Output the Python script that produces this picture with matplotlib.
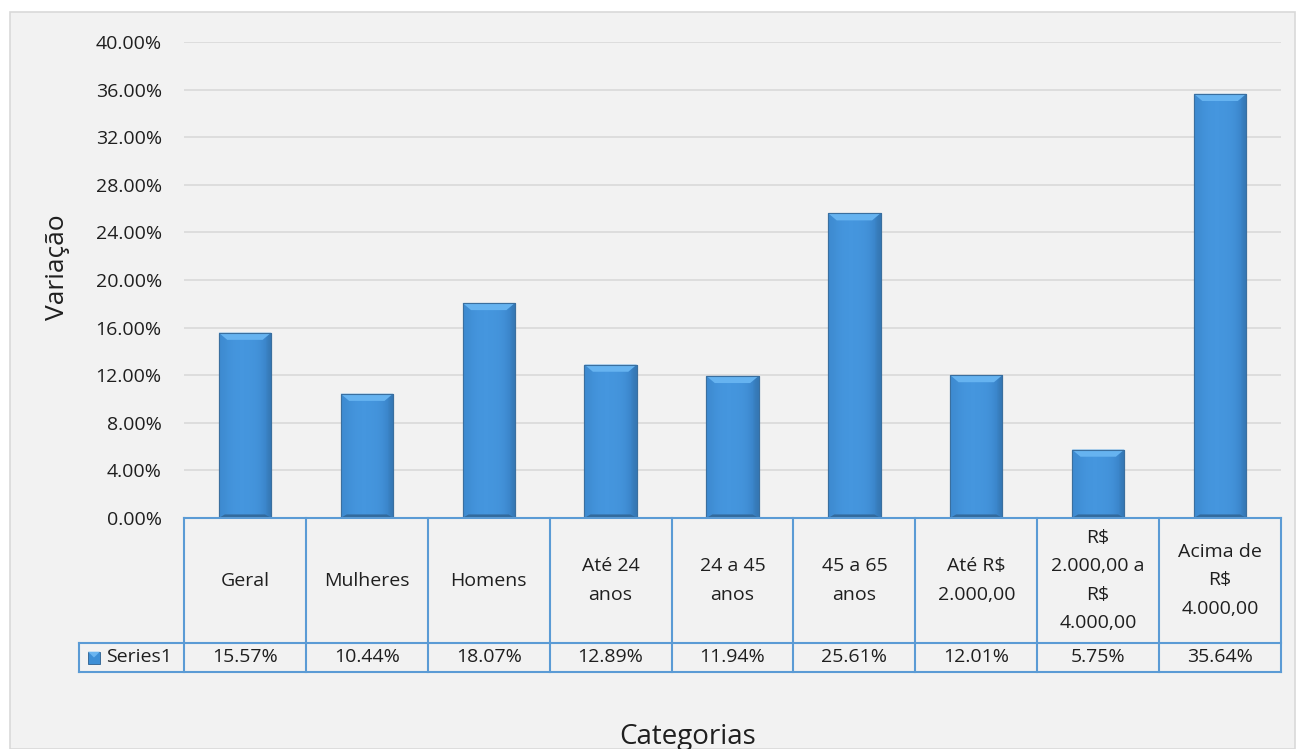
import matplotlib
matplotlib.use("Agg")
import matplotlib.pyplot as plt
import numpy as np
from matplotlib.patches import Rectangle, Polygon
from matplotlib.ticker import FuncFormatter

categories = ["Geral", "Mulheres", "Homens", "Até 24\nanos", "24 a 45\nanos",
              "45 a 65\nanos", "Até R$\n2.000,00", "R$\n2.000,00 a\nR$\n4.000,00",
              "Acima de\nR$\n4.000,00"]
values = [15.57, 10.44, 18.07, 12.89, 11.94, 25.61, 12.01, 5.75, 35.64]
series_name = "Series1"
yticks = [0, 4, 8, 12, 16, 20, 24, 28, 32, 36, 40]

W, H = 1296, 749
FONT = "Open Sans"
FS = 14
plt.rcParams["font.family"] = [FONT, "DejaVu Sans"]


def fx(px):
    return px / W


def fy(py):
    return 1 - py / H


fig = plt.figure(figsize=(W / 100, H / 100), dpi=100, facecolor="white")

# chart area background
fig.patches.append(Rectangle((fx(10), 0), 1 - fx(10) - 0.0005, fy(12), transform=fig.transFigure,
                             facecolor="#f2f2f2", edgecolor="#d9d9d9", linewidth=1.2, zorder=-5))

left, right, top, bottom = 184, 1281, 42, 518
ax = fig.add_axes([fx(left), fy(bottom), fx(right) - fx(left), fy(top) - fy(bottom)])
ax.set_facecolor("none")
for s in ax.spines.values():
    s.set_visible(False)
ax.set_yticks(yticks)
ax.yaxis.set_major_formatter(FuncFormatter(lambda v, p: f"{v:.2f}%"))
ax.tick_params(axis="y", length=0, pad=16, labelsize=FS, labelcolor="#1f1f1f")
ax.set_xticks([])
for t in yticks[1:]:
    ax.axhline(t, color="#d9d9d9", linewidth=1.2, zorder=1)

# bars with a bevel-like shading
grad = np.array([[0.86, 0.97, 1.0, 1.0, 0.98, 0.93, 0.72]])
cmap = matplotlib.colors.LinearSegmentedColormap.from_list(
    "b", ["#2c5f8e", "#3b86cb", "#4596de"])
bw = 0.43
for i, v in enumerate(values):
    bar = ax.bar(i, v, width=bw, color="#3d8fd6", edgecolor="#3a6f9f", linewidth=0.8, zorder=2)[0]
    im = ax.imshow(grad, extent=[i - bw / 2, i + bw / 2, 0, v], aspect="auto",
                   cmap=cmap, vmin=0.6, vmax=1.0, zorder=3, interpolation="bicubic")
    im.set_clip_path(bar)
    d = 0.6
    top_bevel = Polygon([[i - bw / 2, v], [i + bw / 2, v], [i + bw / 2 - 0.07, v - d],
                         [i - bw / 2 + 0.07, v - d]], closed=True,
                        facecolor="#66b3f0", edgecolor="none", zorder=4)
    ax.add_patch(top_bevel)
    db = 0.3
    bot_bevel = Polygon([[i - bw / 2, 0], [i + bw / 2, 0], [i + bw / 2 - 0.05, db],
                         [i - bw / 2 + 0.05, db]], closed=True,
                        facecolor="#336a9c", edgecolor="none", zorder=4)
    ax.add_patch(bot_bevel)
    ax.add_patch(Rectangle((i - bw / 2, 0), bw, v, facecolor="none",
                           edgecolor="#3a6f9f", linewidth=0.8, zorder=5))
ax.set_xlim(-0.5, len(categories) - 0.5)
ax.set_ylim(0, 40)

# data table
t_left, t_mid, t_bot = 79, 643, 672
unit = (right - left) / len(categories)
x0 = -0.5 - (left - t_left) / unit
tax = fig.add_axes([fx(t_left), fy(t_bot), fx(right) - fx(t_left), fy(bottom) - fy(t_bot)])
tax.set_xlim(x0, len(categories) - 0.5)
tax.axis("off")
tax.patch.set_visible(False)
lc = "#5b9bd5"
lw = 1.5
hdr_h = (t_mid - bottom) / (t_bot - t_mid)
tax.set_ylim(0, 1 + hdr_h)
n = len(categories)
tax.plot([-0.5, n - 0.5], [1 + hdr_h, 1 + hdr_h], color=lc, lw=lw, clip_on=False)
tax.plot([x0, n - 0.5], [1, 1], color=lc, lw=lw, clip_on=False)
tax.plot([x0, n - 0.5], [0, 0], color=lc, lw=lw, clip_on=False)
tax.plot([x0, x0], [0, 1], color=lc, lw=lw, clip_on=False)
for k in range(n + 1):
    tax.plot([k - 0.5, k - 0.5], [0, 1 + hdr_h], color=lc, lw=lw, clip_on=False)
for i, (c, v) in enumerate(zip(categories, values)):
    tax.text(i, 1 + hdr_h / 2, c, ha="center", va="center", fontsize=FS,
             color="#1f1f1f", linespacing=1.75)
    tax.text(i, 0.5, f"{v:.2f}%", ha="center", va="center", fontsize=FS, color="#1f1f1f")
# legend key
kx = x0 + 9 / unit
kw = 12 / unit
key = Rectangle((kx, 0.28), kw, 0.42, facecolor="#3d8fd6", edgecolor="#2c5f8e", lw=0.6)
tax.add_patch(key)
tax.add_patch(Polygon([[kx, 0.70], [kx + kw, 0.70], [kx + kw / 2, 0.5]], closed=True,
                      facecolor="#6ab5f0", edgecolor="none"))
tax.text(kx + kw + 6 / unit, 0.5, series_name, ha="left", va="center", fontsize=FS, color="#1f1f1f")

fig.text(fx(57), fy(267), "Variação", rotation=90, ha="center", va="center", fontsize=19, color="#1f1f1f")
fig.text(fx(688), fy(737), "Categorias", ha="center", va="center", fontsize=20, color="#1f1f1f")

fig.savefig("out.png", dpi=100, facecolor="white")
